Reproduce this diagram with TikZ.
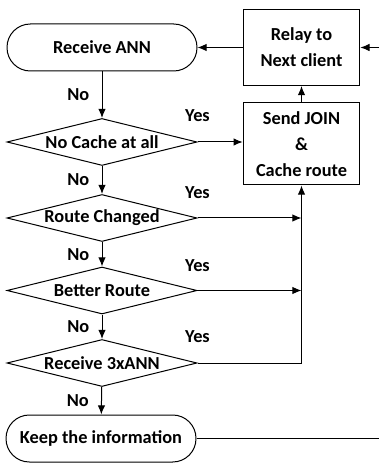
\documentclass[tikz,border=0pt]{standalone}
\usepackage{fontspec}
\setmainfont{Carlito}
\usetikzlibrary{shapes.geometric, arrows.meta}

\begin{document}
\begin{tikzpicture}
      [x = 0.6pt, y = -0.6pt,
        font = \fontsize{11}{15.5}\selectfont\bfseries,
        line width = 0.6pt,
        term/.style={draw, rounded corners = 14pt, minimum width = 114pt, minimum height = 28.2pt, inner sep = 0pt},
        test/.style={draw, diamond, shape aspect = 4, minimum width = 114pt, minimum height = 28.2pt, inner xsep = -4pt, inner ysep = 0pt},
        box/.style={draw, align = center, minimum width = 70pt, inner sep = 0pt},
        flow/.style={-{Latex[length = 5.5pt, width = 4.5pt]}}]
      \useasboundingbox (0,0) rectangle (379,463);

      \node[term] (recv) at (102,47.5) {Receive ANN};
      \node[box, minimum height = 45.6pt] (relay) at (301.5,47.5) {Relay to\\Next client};
      \node[box, minimum height = 49.2pt] (send) at (301.5,144) {Send JOIN\\\&\\Cache route};
      \node[test] (nocache) at (102,142) {No Cache at all};
      \node[test] (changed) at (102,218) {Route Changed};
      \node[test] (better) at (102,290.5) {Better Route};
      \node[test] (thrice) at (102,363) {Receive 3xANN};
      \node[term] (keep) at (101,438.5) {Keep the information};
      \coordinate (inR) at (379,47.5);
      \coordinate (outR) at (379,438.5);

      \draw[flow] (recv) -- node[left = 4pt] (no1) {No} (nocache);
      \draw[flow] (nocache) -- node[left = 4pt] (no2) {No} (changed);
      \draw[flow] (changed) -- node[left = 4pt] (no3) {No} (better);
      \draw[flow] (better) -- node[left = 4pt] (no4) {No} (thrice);
      \draw[flow] (thrice) -- node[left = 4pt] (no5) {No} (keep);

      \node (yes1) at ([shift = {(0,-26)}]nocache.east) {Yes};
      \node (yes2) at ([shift = {(0,-25)}]changed.east) {Yes};
      \node (yes3) at ([shift = {(0,-25)}]better.east) {Yes};
      \node (yes4) at ([shift = {(0,-26)}]thrice.east) {Yes};

      \draw[flow] (nocache.east) -- (nocache.east -| send.west);
      \draw[flow] (changed.east) -- (changed.east -| send.south);
      \draw[flow] (better.east) -- (better.east -| send.south);
      \draw[flow] (thrice.east) -- (thrice.east -| send.south) -- (send.south);
      \draw[flow] (send) -- (relay);
      \draw[flow] (relay) -- (recv);
      \draw[flow] (inR) -- (relay);
      \draw (keep) -- (outR);
    \end{tikzpicture}
\end{document}
